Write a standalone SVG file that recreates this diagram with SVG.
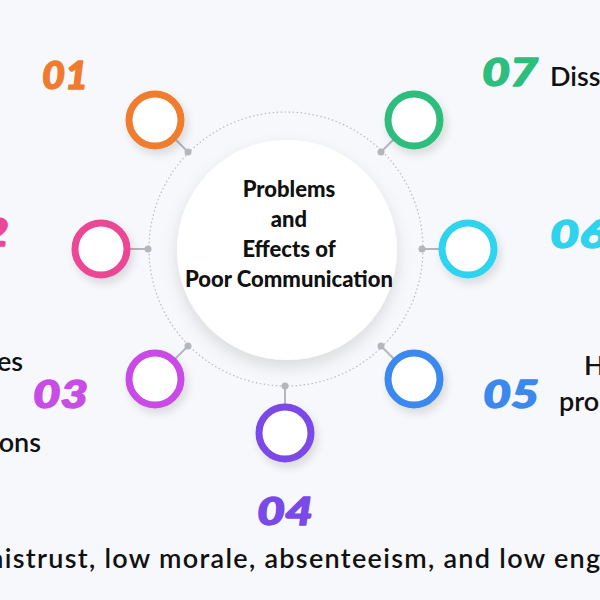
<svg xmlns="http://www.w3.org/2000/svg" width="600" height="600" viewBox="0 0 600 600">
<defs>
<filter id="sh" x="-50%" y="-50%" width="200%" height="200%">
<feDropShadow dx="3" dy="5" stdDeviation="4" flood-color="#000" flood-opacity="0.12"/>
</filter>
<filter id="shc" x="-30%" y="-30%" width="160%" height="160%">
<feDropShadow dx="0" dy="7" stdDeviation="8" flood-color="#000" flood-opacity="0.12"/>
</filter>
<style>
.ring{fill:#fff;stroke-width:7;filter:url(#sh)}
.num{font-family:Lato,"Liberation Sans",sans-serif;font-weight:900;font-style:italic;font-size:38px;stroke-width:1.4;stroke-linejoin:round}
.txt{font-family:Lato,"Liberation Sans",sans-serif;font-weight:600;font-size:27px;fill:#111}
.ctr{font-family:Lato,"Liberation Sans",sans-serif;font-weight:900;font-size:22px;fill:#111;text-anchor:middle}
.con line{stroke:#b3b6bb;stroke-width:2}
.con circle{fill:#b3b6bb}
</style>
</defs>
<rect width="600" height="600" fill="#f7f8fb"/>
<circle cx="286" cy="249" r="137" fill="none" stroke="#b8bbc0" stroke-width="1.2" stroke-dasharray="1.5 2.5"/>
<g id="center">
<circle cx="287" cy="250" r="110" fill="#fff" filter="url(#shc)"/>
<text class="ctr" x="289" y="197">Problems</text>
<text class="ctr" x="289" y="227">and</text>
<text class="ctr" x="289" y="257">Effects of</text>
<text class="ctr" x="289" y="287">Poor Communication</text>
</g>
<g id="connectors" class="con">
<line x1="188" y1="152" x2="174" y2="138"/><circle cx="188" cy="152" r="3.5"/>
<line x1="148" y1="249" x2="129" y2="249"/><circle cx="148" cy="249" r="3.5"/>
<line x1="188" y1="346" x2="174" y2="360"/><circle cx="188" cy="346" r="3.5"/>
<line x1="285" y1="386" x2="285" y2="404"/><circle cx="285" cy="386" r="3.5"/>
<line x1="381" y1="346" x2="395" y2="360"/><circle cx="381" cy="346" r="3.5"/>
<line x1="422" y1="249" x2="439" y2="249"/><circle cx="422" cy="249" r="3.5"/>
<line x1="381" y1="152" x2="395" y2="138"/><circle cx="381" cy="152" r="3.5"/>
</g>
<g id="n01">
<circle class="ring" cx="155" cy="120" r="26" stroke="#f07b2f"/>
<text class="num" x="42" y="89" fill="#f07b2f" stroke="#f07b2f" textLength="46" lengthAdjust="spacingAndGlyphs">01</text>
</g>
<g id="n02">
<circle class="ring" cx="101" cy="249" r="26" stroke="#ec4795"/>
<text class="num" x="-47" y="246" fill="#ec4795" stroke="#ec4795" textLength="56" lengthAdjust="spacingAndGlyphs">02</text>
<text class="txt" x="23" y="371" text-anchor="end">es</text>
<text class="txt" x="41" y="452" text-anchor="end">ons</text>
</g>
<g id="n03">
<circle class="ring" cx="155" cy="379" r="26" stroke="#c84ce6"/>
<text class="num" x="33" y="408" fill="#c84ce6" stroke="#c84ce6" textLength="55" lengthAdjust="spacingAndGlyphs">03</text>
</g>
<g id="n04">
<circle class="ring" cx="285" cy="433" r="26" stroke="#7a4ae8"/>
<text class="num" x="257" y="525" fill="#7a4ae8" stroke="#7a4ae8" textLength="56" lengthAdjust="spacingAndGlyphs">04</text>
<text class="txt" x="-19" y="568" font-size="32" letter-spacing="1.3">mistrust, low morale, absenteeism, and low engagement</text>
</g>
<g id="n05">
<circle class="ring" cx="414" cy="379" r="26" stroke="#3b88ef"/>
<text class="num" x="483" y="408" fill="#3b88ef" stroke="#3b88ef" textLength="56" lengthAdjust="spacingAndGlyphs">05</text>
<text class="txt" x="584" y="375">H</text>
<text class="txt" x="559" y="411">pro</text>
</g>
<g id="n06">
<circle class="ring" cx="468" cy="249" r="26" stroke="#2fd3ee"/>
<text class="num" x="550" y="248" fill="#2fd3ee" stroke="#2fd3ee" textLength="56" lengthAdjust="spacingAndGlyphs">06</text>
</g>
<g id="n07">
<circle class="ring" cx="414" cy="120" r="26" stroke="#2dbd7c"/>
<text class="num" x="482" y="86" fill="#2dbd7c" stroke="#2dbd7c" textLength="56" lengthAdjust="spacingAndGlyphs">07</text>
<text class="txt" x="550" y="86" font-size="28">Diss</text>
</g>
</svg>
